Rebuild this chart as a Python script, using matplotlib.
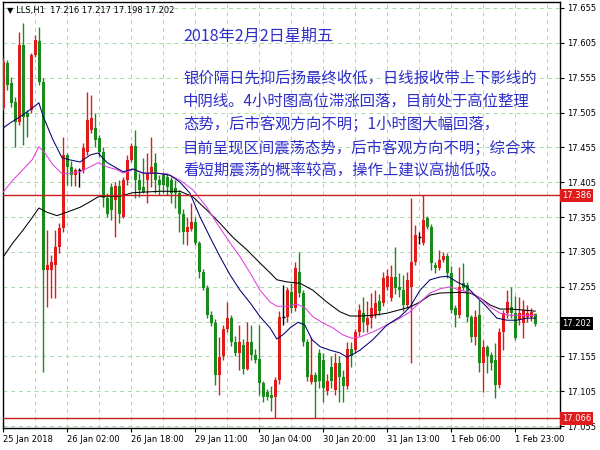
import numpy as np
import matplotlib
matplotlib.use("Agg")
import matplotlib.pyplot as plt

# Kerzendaten (LLS, H1), Reihenfolge links -> rechts
opens = [
    17.511, 17.576, 17.547, 17.520, 17.491, 17.602, 17.505, 17.509, 17.588, 17.607,
    17.549, 17.279, 17.279, 17.286, 17.312, 17.339, 17.444, 17.427, 17.415, 17.422,
    17.422, 17.448, 17.480, 17.483, 17.468, 17.448, 17.382, 17.398, 17.379, 17.400,
    17.355, 17.408, 17.437, 17.457, 17.408, 17.398, 17.408, 17.418, 17.433, 17.408,
    17.415, 17.412, 17.408, 17.397, 17.389, 17.360, 17.333, 17.338, 17.348, 17.318,
    17.276, 17.253, 17.214, 17.203, 17.128, 17.155, 17.194, 17.210, 17.176, 17.160,
    17.172, 17.137, 17.176, 17.157, 17.152, 17.117, 17.104, 17.100, 17.097, 17.121,
    17.211, 17.212, 17.248, 17.225, 17.276, 17.246, 17.176, 17.118, 17.128, 17.160,
    17.150, 17.105, 17.140, 17.107, 17.145, 17.125, 17.112, 17.165, 17.164, 17.190,
    17.217, 17.200, 17.210, 17.215, 17.235, 17.232, 17.255, 17.239, 17.269, 17.255,
    17.250, 17.229, 17.255, 17.290, 17.326, 17.318, 17.354, 17.341, 17.286, 17.282,
    17.293, 17.299, 17.275, 17.224, 17.214, 17.260, 17.257, 17.211, 17.183, 17.214,
    17.145, 17.168, 17.157, 17.150, 17.114, 17.190, 17.217, 17.226, 17.217, 17.207,
    17.203, 17.211, 17.211, 17.216]
closes = [
    17.577, 17.545, 17.519, 17.491, 17.602, 17.498, 17.498, 17.588, 17.609, 17.549,
    17.279, 17.286, 17.290, 17.312, 17.339, 17.444, 17.427, 17.415, 17.422, 17.422,
    17.454, 17.494, 17.497, 17.466, 17.448, 17.382, 17.360, 17.365, 17.400, 17.360,
    17.408, 17.437, 17.457, 17.408, 17.394, 17.391, 17.418, 17.427, 17.408, 17.401,
    17.401, 17.398, 17.389, 17.389, 17.360, 17.333, 17.341, 17.348, 17.318, 17.276,
    17.253, 17.214, 17.203, 17.128, 17.154, 17.195, 17.210, 17.176, 17.160, 17.175,
    17.137, 17.176, 17.157, 17.150, 17.117, 17.097, 17.097, 17.095, 17.121, 17.212,
    17.211, 17.250, 17.225, 17.282, 17.246, 17.176, 17.125, 17.129, 17.118, 17.120,
    17.110, 17.120, 17.120, 17.145, 17.125, 17.112, 17.165, 17.155, 17.190, 17.222,
    17.204, 17.210, 17.224, 17.232, 17.220, 17.268, 17.270, 17.269, 17.253, 17.250,
    17.229, 17.265, 17.290, 17.329, 17.326, 17.351, 17.341, 17.289, 17.282, 17.293,
    17.299, 17.275, 17.222, 17.214, 17.255, 17.253, 17.211, 17.183, 17.211, 17.145,
    17.168, 17.155, 17.145, 17.114, 17.190, 17.217, 17.233, 17.217, 17.181, 17.217,
    17.222, 17.217, 17.219, 17.202]
highs = [
    17.583, 17.580, 17.556, 17.527, 17.621, 17.633, 17.509, 17.590, 17.616, 17.628,
    17.555, 17.336, 17.300, 17.336, 17.346, 17.470, 17.447, 17.435, 17.425, 17.426,
    17.461, 17.534, 17.530, 17.504, 17.473, 17.456, 17.390, 17.404, 17.405, 17.408,
    17.412, 17.444, 17.461, 17.480, 17.418, 17.440, 17.447, 17.470, 17.447, 17.415,
    17.420, 17.418, 17.412, 17.408, 17.394, 17.367, 17.355, 17.375, 17.355, 17.320,
    17.280, 17.258, 17.220, 17.208, 17.183, 17.200, 17.233, 17.215, 17.185, 17.200,
    17.180, 17.205, 17.200, 17.165, 17.200, 17.120, 17.108, 17.112, 17.125, 17.220,
    17.257, 17.255, 17.260, 17.290, 17.305, 17.250, 17.180, 17.183, 17.132, 17.165,
    17.160, 17.130, 17.155, 17.160, 17.155, 17.135, 17.175, 17.175, 17.195, 17.230,
    17.240, 17.235, 17.246, 17.250, 17.245, 17.276, 17.280, 17.286, 17.312, 17.275,
    17.272, 17.276, 17.382, 17.343, 17.334, 17.386, 17.357, 17.345, 17.290, 17.308,
    17.305, 17.303, 17.285, 17.229, 17.283, 17.289, 17.262, 17.215, 17.222, 17.236,
    17.179, 17.171, 17.161, 17.174, 17.196, 17.222, 17.250, 17.255, 17.242, 17.240,
    17.236, 17.229, 17.224, 17.217]
lows = [
    17.509, 17.537, 17.513, 17.456, 17.487, 17.458, 17.470, 17.505, 17.585, 17.545,
    17.133, 17.226, 17.239, 17.239, 17.303, 17.333, 17.401, 17.400, 17.400, 17.398,
    17.418, 17.444, 17.476, 17.456, 17.441, 17.369, 17.355, 17.351, 17.326, 17.346,
    17.354, 17.401, 17.434, 17.382, 17.384, 17.389, 17.375, 17.398, 17.389, 17.387,
    17.389, 17.387, 17.375, 17.368, 17.333, 17.317, 17.315, 17.335, 17.315, 17.268,
    17.250, 17.210, 17.198, 17.114, 17.100, 17.150, 17.190, 17.170, 17.155, 17.135,
    17.130, 17.135, 17.150, 17.145, 17.100, 17.090, 17.093, 17.077, 17.066, 17.115,
    17.200, 17.205, 17.218, 17.220, 17.240, 17.170, 17.120, 17.115, 17.066, 17.110,
    17.090, 17.100, 17.110, 17.100, 17.090, 17.090, 17.108, 17.140, 17.160, 17.185,
    17.190, 17.190, 17.196, 17.210, 17.215, 17.228, 17.250, 17.235, 17.245, 17.240,
    17.220, 17.225, 17.145, 17.286, 17.317, 17.315, 17.338, 17.279, 17.275, 17.279,
    17.290, 17.268, 17.217, 17.197, 17.210, 17.250, 17.205, 17.176, 17.171, 17.133,
    17.104, 17.131, 17.136, 17.095, 17.110, 17.164, 17.210, 17.210, 17.179, 17.200,
    17.181, 17.205, 17.206, 17.198]

# gleitende Durchschnitte (Balkenindex, Preis)
ma_fast_x = [0, 1.7, 4.2, 6.7, 8.9, 10, 12.4, 14.7, 16.7, 19.2, 21.7, 23.7, 26, 28.4, 30, 32.4,
             35, 38.4, 41.7, 44.2, 46.7, 49.2, 51.7, 54.2, 56.7, 59.2, 61.7, 64.2, 66.7, 68.4,
             69.9, 71.7, 73.7, 75.4, 77.2, 79.2, 81.7, 84.2, 85.9, 87.4, 89.2, 92.4, 95.9, 99.2,
             101.7, 104.2, 106.7, 109.2, 111.2, 113.4, 115.9, 118.4, 120.9, 123.4, 125.9, 128.4,
             130.9, 133]
ma_fast_y = [17.483, 17.490, 17.499, 17.509, 17.519, 17.499, 17.466, 17.440, 17.437, 17.434,
             17.444, 17.447, 17.433, 17.425, 17.420, 17.424, 17.418, 17.418, 17.415, 17.405,
             17.389, 17.355, 17.326, 17.298, 17.272, 17.250, 17.232, 17.212, 17.196, 17.180,
             17.186, 17.196, 17.204, 17.200, 17.179, 17.169, 17.164, 17.160, 17.154, 17.158,
             17.164, 17.179, 17.200, 17.212, 17.226, 17.250, 17.265, 17.269, 17.270, 17.262,
             17.255, 17.240, 17.226, 17.210, 17.207, 17.207, 17.210, 17.210]
ma_mid_x = [0, 2.4, 4.9, 7.2, 8.9, 10.4, 12.4, 14.7, 16.7, 19.2, 21.7, 23.7, 26, 28.4, 30, 32.4,
            35, 38.4, 40.9, 44.2, 47.4, 50.9, 53.4, 56.7, 59.2, 61.7, 64.2, 66.7, 68.4, 70.9,
            73.4, 75.4, 77.4, 79.9, 82.4, 84.9, 87.2, 89.2, 92.4, 95.9, 99.2, 101.7, 104.2,
            106.7, 109.2, 111.7, 114.2, 116.7, 119.2, 121.7, 124.2, 126.7, 129.2, 133]
ma_mid_y = [17.391, 17.408, 17.423, 17.437, 17.456, 17.447, 17.430, 17.417, 17.418, 17.420,
            17.427, 17.433, 17.427, 17.423, 17.418, 17.423, 17.418, 17.418, 17.417, 17.408,
            17.394, 17.369, 17.346, 17.318, 17.298, 17.275, 17.250, 17.233, 17.227, 17.227,
            17.230, 17.225, 17.212, 17.203, 17.196, 17.186, 17.181, 17.183, 17.190, 17.200,
            17.210, 17.219, 17.233, 17.246, 17.252, 17.255, 17.250, 17.247, 17.239, 17.226,
            17.217, 17.214, 17.214, 17.214]
ma_slow_x = [0, 2.4, 4.9, 7.2, 8.9, 10.9, 13.4, 15.9, 19.2, 21.7, 23.7, 26, 29.2, 32.4, 35.9,
             39.2, 42.4, 44.2, 47.4, 50.9, 54.2, 57.4, 60.9, 64.2, 66.7, 68.4, 70.9, 74.2, 77.4,
             80.9, 84.2, 86.7, 89.2, 92.4, 95.9, 99.2, 101.7, 104.2, 106.7, 109.2, 114.2, 116.7,
             119.2, 121.7, 124.2, 126.7, 129.2, 133]
ma_slow_y = [17.298, 17.318, 17.336, 17.354, 17.368, 17.362, 17.357, 17.362, 17.369, 17.377,
             17.384, 17.385, 17.385, 17.390, 17.391, 17.392, 17.392, 17.392, 17.384, 17.365,
             17.346, 17.326, 17.308, 17.289, 17.275, 17.265, 17.262, 17.260, 17.250, 17.233,
             17.219, 17.213, 17.213, 17.214, 17.217, 17.222, 17.226, 17.233, 17.243, 17.246,
             17.247, 17.246, 17.239, 17.229, 17.223, 17.223, 17.222, 17.220]

price_ticks = [17.055, 17.105, 17.155, 17.205, 17.255, 17.305, 17.355, 17.405, 17.455,
               17.505, 17.555, 17.605, 17.655]
time_pos = [0, 16, 32, 48, 64, 80, 96, 112, 128]
time_labels = ["25 Jan 2018", "26 Jan 02:00", "26 Jan 18:00", "29 Jan 11:00", "30 Jan 04:00",
               "30 Jan 20:00", "31 Jan 13:00", "1 Feb 06:00", "1 Feb 23:00"]
level_high = 17.386
level_low = 17.066
last_price = 17.202

title_cn = "2018年2月2日星期五"
lines_cn = ["银价隔日先抑后扬最终收低，日线报收带上下影线的",
            "中阴线。4小时图高位滞涨回落，目前处于高位整理",
            "态势，后市客观方向不明；1小时图大幅回落，",
            "目前呈现区间震荡态势，后市客观方向不明；综合来",
            "看短期震荡的概率较高，操作上建议高抛低吸。"]

UP = "#e01b1b"
DOWN = "#1a8a1a"

fig = plt.figure(figsize=(6, 4.5), dpi=100)
ax = fig.add_axes([2.5 / 600, 1 - 428 / 450, 557.5 / 600, 426 / 450])

# Kerzen zeichnen
for i in range(len(opens)):
    o, c = opens[i], closes[i]
    if c > o:
        col = UP
    elif c < o:
        col = DOWN
    else:
        col = "black"
    ax.vlines(i, lows[i], highs[i], color=col, lw=1, zorder=3)
    if c == o:
        ax.hlines(o, i - 0.38, i + 0.38, color=col, lw=1, zorder=4)
    else:
        ax.bar(i, abs(c - o), bottom=min(o, c), width=0.75, color=col, lw=0, zorder=4)

ax.plot(ma_slow_x, ma_slow_y, color="black", lw=0.75, zorder=5)
ax.plot(ma_mid_x, ma_mid_y, color="#e040e0", lw=0.75, zorder=5)
ax.plot(ma_fast_x, ma_fast_y, color="#000070", lw=0.75, zorder=5)

ax.axhline(level_high, color="#c81e1e", lw=1, zorder=6)
ax.axhline(level_low, color="#c81e1e", lw=1, zorder=6)

ax.set_xlim(-0.2, 139.2)
ax.set_ylim(17.0523, 17.6636)

# Gitter
for k in range(8, 140, 8):
    ax.axvline(k, color="#a9d9a9", lw=0.7, ls=(0, (4, 4)), zorder=1)
for p in price_ticks:
    ax.axhline(p, color="#a9d9a9", lw=0.7, ls=(0, (4, 4)), zorder=1)

ax.yaxis.tick_right()
ax.set_yticks(price_ticks)
ax.set_yticklabels(["" if p == 17.205 else f"{p:.3f}" for p in price_ticks], fontsize=6)
ax.set_xticks(time_pos)
ax.set_xticklabels(time_labels, fontsize=6, ha="left")
ax.tick_params(axis="both", length=3, width=0.8, pad=2)
for s in ax.spines.values():
    s.set_color("black")
    s.set_linewidth(1)

# Preisschilder rechts
tr = ax.get_yaxis_transform()
for val, bg in [(level_high, "#e01b1b"), (last_price, "black"), (level_low, "#e01b1b")]:
    ax.text(1.003, val, f"{val:.3f}", transform=tr, ha="left", va="center", fontsize=6,
            color="white", clip_on=False, zorder=10,
            bbox=dict(boxstyle="square,pad=0.25", fc=bg, ec="none"))

fig.text(7 / 600, 1 - 11 / 450, "▼ LLS,H1  17.216 17.217 17.198 17.202", fontsize=6,
         va="center", ha="left")

cn_font = ["Noto Sans CJK SC", "DejaVu Sans"]
fig.text(183 / 600, 1 - 36 / 450, title_cn, family=cn_font, fontsize=11.6,
         color="#2e2ec8", va="center", ha="left")
for j, line in enumerate(lines_cn):
    fig.text(183 / 600, 1 - (78 + j * 23.2) / 450, line, family=cn_font, fontsize=11.1,
             color="#2e2ec8", va="center", ha="left")

fig.savefig("out.png", dpi=100, facecolor="white")
